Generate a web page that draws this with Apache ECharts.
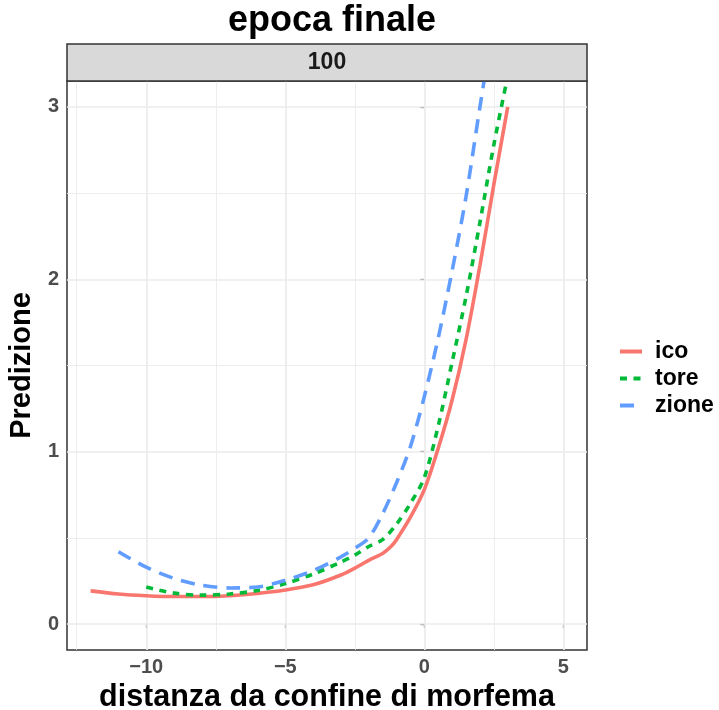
<!DOCTYPE html>
<html>
<head>
<meta charset="utf-8">
<script src="https://cdn.jsdelivr.net/npm/echarts@6/dist/echarts.min.js"></script>
<style>
  html, body { margin: 0; padding: 0; background: #fff; }
  #chart { width: 719px; height: 710px; }
</style>
</head>
<body>
<div id="chart"></div>
<script>
// Predicted values by distance from the morpheme boundary, final epoch (100)
const xIco   = [-12, -11, -10, -9, -8, -7, -6, -5, -4, -3, -2.5, -2, -1.5, -1.2, -1, -0.5, 0, 0.5, 1, 1.5, 2, 2.5, 3];
const yIco   = [0.193, 0.175, 0.165, 0.160, 0.160, 0.165, 0.178, 0.198, 0.228, 0.285, 0.325, 0.370, 0.410, 0.450, 0.490, 0.620, 0.780, 1.020, 1.300, 1.650, 2.080, 2.550, 3.000];

const xTore  = [-10, -9, -8, -7, -6, -5, -4, -3, -2.5, -2, -1.5, -1, -0.5, 0, 0.5, 1, 1.5, 2, 2.5, 3];
const yTore  = [0.215, 0.180, 0.168, 0.175, 0.195, 0.235, 0.290, 0.360, 0.400, 0.450, 0.490, 0.580, 0.700, 0.850, 1.150, 1.520, 1.900, 2.330, 2.780, 3.180];

const xZione = [-11, -10, -9, -8, -7, -6, -5, -4, -3, -2.5, -2, -1.5, -1, -0.5, 0, 0.5, 1, 1.5, 2, 2.5];
const yZione = [0.420, 0.330, 0.265, 0.225, 0.210, 0.215, 0.255, 0.310, 0.390, 0.440, 0.500, 0.640, 0.820, 1.030, 1.320, 1.660, 2.050, 2.480, 3.000, 3.500];

const seriesNames = ['ico', 'tore', 'zione'];
const xTicks = [-10, -5, 0, 5];
const yTicks = [0, 1, 2, 3];
const xMinorGrid = [-12.5, -7.5, -2.5, 2.5];
const yMinorGrid = [0.5, 1.5, 2.5];
const panelLabel = '100';

const FONT = '"Liberation Sans", Arial, sans-serif';
const colors = ['#F8766D', '#00BA38', '#619CFF'];

const pair = (xs, ys) => xs.map((x, i) => [x, ys[i]]);
const minus = v => (v < 0 ? '\u2212' + Math.abs(v) : String(v));

const gridLines = [
  ...xTicks.map(v => ({ xAxis: v, lineStyle: { width: 1.7 } })),
  ...xMinorGrid.map(v => ({ xAxis: v, lineStyle: { width: 0.9 } })),
  ...yTicks.map(v => ({ yAxis: v, lineStyle: { width: 1.7 } })),
  ...yMinorGrid.map(v => ({ yAxis: v, lineStyle: { width: 0.9 } }))
];

const lineSeries = (name, data, color, dash) => ({
  name, type: 'line', data, z: 3,
  symbol: 'none', smooth: 0.3, clip: true,
  lineStyle: { color, width: 3.6, type: dash, cap: 'butt' },
  itemStyle: { color }
});

const chart = echarts.init(document.getElementById('chart'), null, { renderer: 'canvas' });
chart.setOption({
  animation: false,
  backgroundColor: '#ffffff',
  textStyle: { fontFamily: FONT },
  title: {
    text: 'epoca finale',
    left: 327, top: -2, textAlign: 'center',
    textStyle: { fontFamily: FONT, fontSize: 36, fontWeight: 'bold', color: '#000' }
  },
  grid: {
    left: 67, top: 81, width: 520, height: 569,
    containLabel: false, outerBoundsMode: 'none',
    show: true, backgroundColor: '#ffffff', borderColor: '#333333', borderWidth: 1.5, z: 0
  },
  xAxis: {
    type: 'value', min: -12.85, max: 5.85,
    name: 'distanza da confine di morfema', nameLocation: 'middle', nameGap: 30,
    nameTextStyle: { fontFamily: FONT, fontSize: 30.5, fontWeight: 'bold', color: '#000' },
    axisLine: { show: false },
    splitLine: { show: false },
    axisTick: { show: true, customValues: xTicks, length: 4, lineStyle: { color: '#333', width: 1.2 } },
    axisLabel: { customValues: xTicks, formatter: minus, margin: 7,
      fontFamily: FONT, fontSize: 20, fontWeight: 'bold', color: '#4D4D4D' }
  },
  yAxis: {
    type: 'value', min: -0.15, max: 3.15,
    name: 'Predizione', nameLocation: 'middle', nameGap: 18, nameRotate: 90,
    nameTextStyle: { fontFamily: FONT, fontSize: 29, fontWeight: 'bold', color: '#000' },
    axisLine: { show: false },
    splitLine: { show: false },
    axisTick: { show: true, customValues: yTicks, length: 4, lineStyle: { color: '#333', width: 1.2 } },
    axisLabel: { customValues: yTicks, formatter: minus, margin: 8,
      fontFamily: FONT, fontSize: 20, fontWeight: 'bold', color: '#4D4D4D' }
  },
  legend: {
    orient: 'vertical', left: 613, top: 335,
    itemWidth: 22, itemHeight: 14, itemGap: 4,
    data: seriesNames,
    itemStyle: { opacity: 0 },
    lineStyle: { width: 4 },
    textStyle: { fontFamily: FONT, fontSize: 23, fontWeight: 'bold', color: '#000', padding: [0, 0, 0, 8] }
  },
  graphic: [
    {
      type: 'rect', z: 10,
      shape: { x: 67, y: 44, width: 520, height: 37 },
      style: { fill: '#D9D9D9', stroke: '#333333', lineWidth: 1.5 }
    },
    {
      type: 'text', z: 11, x: 327, y: 63,
      style: { text: panelLabel, fill: '#1A1A1A', font: 'bold 23px ' + FONT, textAlign: 'center', textVerticalAlign: 'middle' }
    }
  ],
  series: [
    {
      type: 'line', data: [], z: 1, silent: true,
      markLine: {
        silent: true, z: 1, symbol: ['none', 'none'], label: { show: false },
        lineStyle: { color: '#EBEBEB', type: 'solid' },
        emphasis: { disabled: true },
        data: gridLines
      }
    },
    lineSeries(seriesNames[0], pair(xIco, yIco), colors[0], 'solid'),
    lineSeries(seriesNames[1], pair(xTore, yTore), colors[1], [7, 6.5]),
    lineSeries(seriesNames[2], pair(xZione, yZione), colors[2], [14, 9])
  ]
});
</script>
</body>
</html>
